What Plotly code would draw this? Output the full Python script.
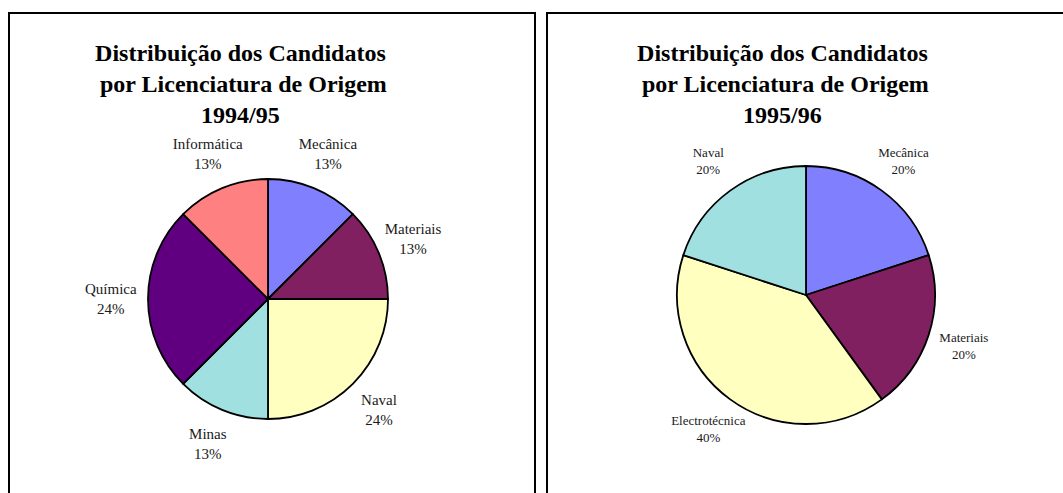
import plotly.graph_objects as go

W, H = 1063, 560   # figure is taller than the 493px window; the overflow is below the fold

# ---- data ----
cats_9495 = ["Mecânica", "Materiais", "Naval", "Minas", "Química", "Informática"]
share_9495 = [12.5, 12.5, 25, 12.5, 25, 12.5]
pct_9495 = ["13%", "13%", "24%", "13%", "24%", "13%"]   # percentages as printed
colors_9495 = ["#8080FF", "#802060", "#FFFFC0", "#A0E0E0", "#600080", "#FF8080"]

cats_9596 = ["Mecânica", "Materiais", "Electrotécnica", "Naval"]
share_9596 = [20, 20, 40, 20]
pct_9596 = ["20%", "20%", "40%", "20%"]
colors_9596 = ["#8080FF", "#802060", "#FFFFC0", "#A0E0E0"]

title_lines = ["Distribuição dos Candidatos", " por Licenciatura de Origem"]
years = ["1994/95", "1995/96"]

SERIF = "'Liberation Serif', 'Times New Roman', serif"


def px_dom(cx, cy, r):
    return dict(x=[(cx - r) / W, (cx + r) / W],
                y=[1 - (cy + r) / H, 1 - (cy - r) / H])


fig = go.Figure()


def add_pie(cats, share, pct, colors, cx, cy, r, label_r, ring_px, fsize):
    # transparent ring carrying the category labels around the pie
    fig.add_trace(go.Pie(
        labels=cats, values=share, text=pct,
        texttemplate="%{label}<br>%{text}",
        textposition="inside", insidetextorientation="horizontal",
        sort=False, direction="clockwise", rotation=0,
        hole=1 - ring_px / label_r,
        marker=dict(colors=["rgba(0,0,0,0)"] * len(cats), line=dict(width=0)),
        insidetextfont=dict(family=SERIF, size=fsize, color="#1a1a1a"),
        domain=px_dom(cx, cy, label_r),
        showlegend=False, hoverinfo="skip",
    ))
    # the pie itself
    fig.add_trace(go.Pie(
        labels=cats, values=share, text=pct,
        textinfo="none",
        sort=False, direction="clockwise", rotation=0,
        marker=dict(colors=colors, line=dict(color="black", width=1.8)),
        domain=px_dom(cx, cy, r),
        showlegend=False, hoverinfo="label+text",
    ))


add_pie(cats_9495, share_9495, pct_9495, colors_9495, 268, 299, 120, 198, 82, 15)
add_pie(cats_9596, share_9596, pct_9596, colors_9596, 806, 295, 129, 210, 88, 13)

# titles
for cx, yr in [(240, years[0]), (782, years[1])]:
    fig.add_annotation(
        x=cx / W, y=1 - 38 / H, xref="paper", yref="paper",
        xanchor="center", yanchor="top", showarrow=False, align="center",
        text="<b>" + "<br>".join(title_lines + [yr]) + "</b>",
        font=dict(family=SERIF, size=24, color="black"),
    )

# panel borders
fig.add_shape(type="rect", xref="paper", yref="paper",
              x0=9 / W, x1=535 / W, y0=0, y1=1 - 13 / H,
              line=dict(color="black", width=2))
fig.add_shape(type="rect", xref="paper", yref="paper",
              x0=547 / W, x1=1.05, y0=0, y1=1 - 13 / H,
              line=dict(color="black", width=2))

fig.update_layout(
    width=W, height=H,
    margin=dict(l=0, r=0, t=0, b=0),
    paper_bgcolor="white", plot_bgcolor="white",
    showlegend=False,
)

fig.write_html(
    "out.html", config={"displayModeBar": False},
    post_script="document.body.style.margin='0px';document.body.style.overflow='hidden';",
)
